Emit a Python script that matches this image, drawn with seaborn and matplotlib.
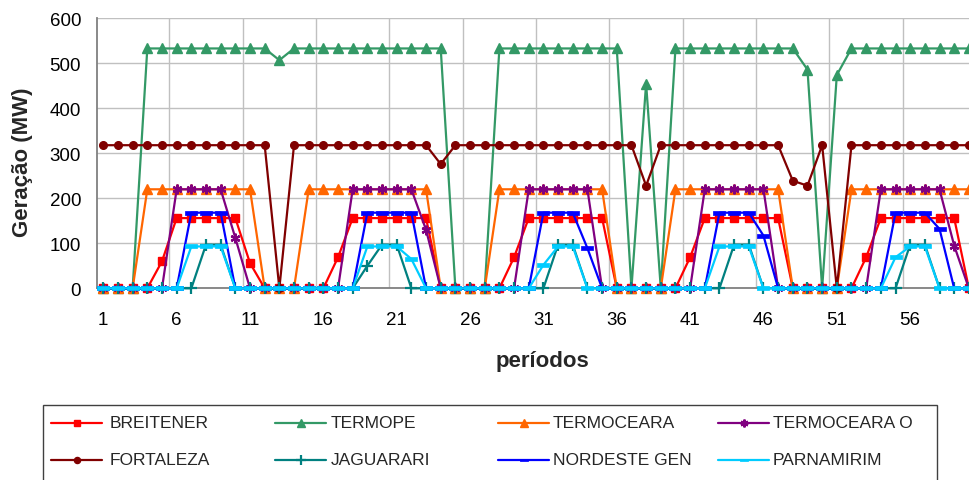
import matplotlib
matplotlib.use("Agg")
import matplotlib.pyplot as plt
import seaborn as sns
import pandas as pd
from matplotlib.lines import Line2D
from matplotlib.patches import Rectangle
from matplotlib import font_manager
from matplotlib.ticker import MultipleLocator, FixedLocator

# Generation per period (MW)
periods = list(range(1, 61))

breitener = [0, 0, 0, 0, 60, 156, 156, 156, 156, 156,
             56, 0, 0, 0, 0, 0, 69, 156, 156, 156,
             156, 156, 156, 0, 0, 0, 0, 0, 69, 156,
             156, 156, 156, 156, 156, 0, 0, 0, 0, 0,
             69, 156, 156, 156, 156, 156, 156, 0, 0, 0,
             0, 0, 69, 156, 156, 156, 156, 156, 156, 0]

termope = [0, 0, 0, 533, 533, 533, 533, 533, 533, 533,
           533, 533, 507, 533, 533, 533, 533, 533, 533, 533,
           533, 533, 533, 533, 0, 0, 0, 533, 533, 533,
           533, 533, 533, 533, 533, 533, 0, 455, 0, 533,
           533, 533, 533, 533, 533, 533, 533, 533, 486, 0,
           474, 533, 533, 533, 533, 533, 533, 533, 533, 533]

termoceara = [0, 0, 0, 220, 220, 220, 220, 220, 220, 220,
              220, 0, 0, 0, 220, 220, 220, 220, 220, 220,
              220, 220, 220, 0, 0, 0, 0, 220, 220, 220,
              220, 220, 220, 220, 220, 0, 0, 0, 0, 220,
              220, 220, 220, 220, 220, 220, 220, 0, 0, 0,
              0, 220, 220, 220, 220, 220, 220, 220, 220, 220]

termoceara_o = [0, 0, 0, 0, 0, 220, 220, 220, 220, 112,
                0, 0, 0, 0, 0, 0, 0, 220, 220, 220,
                220, 220, 130, 0, 0, 0, 0, 0, 0, 220,
                220, 220, 220, 220, 0, 0, 0, 0, 0, 0,
                0, 220, 220, 220, 220, 220, 0, 0, 0, 0,
                0, 0, 0, 220, 220, 220, 220, 220, 95, 0]

fortaleza = [318, 318, 318, 318, 318, 318, 318, 318, 318, 318,
             318, 318, 0, 318, 318, 318, 318, 318, 318, 318,
             318, 318, 318, 276, 318, 318, 318, 318, 318, 318,
             318, 318, 318, 318, 318, 318, 318, 228, 318, 318,
             318, 318, 318, 318, 318, 318, 318, 239, 228, 318,
             0, 318, 318, 318, 318, 318, 318, 318, 318, 318]

jaguarari = [0, 0, 0, 0, 0, 0, 0, 97, 97, 0,
             0, 0, 0, 0, 0, 0, 0, 0, 50, 97,
             97, 0, 0, 0, 0, 0, 0, 0, 0, 0,
             0, 97, 97, 0, 0, 0, 0, 0, 0, 0,
             0, 0, 0, 97, 97, 0, 0, 0, 0, 0,
             0, 0, 0, 0, 0, 97, 97, 0, 0, 0]

nordeste_gen = [0, 0, 0, 0, 0, 0, 168, 168, 168, 0,
                0, 0, 0, 0, 0, 0, 0, 0, 168, 168,
                168, 168, 0, 0, 0, 0, 0, 0, 0, 0,
                168, 168, 168, 89, 0, 0, 0, 0, 0, 0,
                0, 0, 168, 168, 168, 117, 0, 0, 0, 0,
                0, 0, 0, 0, 168, 168, 168, 132, 0, 0]

parnamirim = [0, 0, 0, 0, 0, 0, 93, 93, 93, 0,
              0, 0, 0, 0, 0, 0, 0, 0, 93, 93,
              93, 65, 0, 0, 0, 0, 0, 0, 0, 0,
              52, 93, 93, 0, 0, 0, 0, 0, 0, 0,
              0, 0, 93, 93, 93, 0, 0, 0, 0, 0,
              0, 0, 0, 0, 69, 93, 93, 0, 0, 0]

stations = ["BREITENER", "TERMOPE", "TERMOCEARA", "TERMOCEARA O",
            "FORTALEZA", "JAGUARARI", "NORDESTE GEN", "PARNAMIRIM"]
values = [breitener, termope, termoceara, termoceara_o,
          fortaleza, jaguarari, nordeste_gen, parnamirim]

df = pd.concat(
    [pd.DataFrame({"periodo": periods, "geracao": v, "usina": s})
     for s, v in zip(stations, values)],
    ignore_index=True,
)

# Excel-like series styling
dash = [(-1, -0.3), (1, -0.3), (1, 0.3), (-1, 0.3), (-1, -0.3)]
style = {
    "BREITENER":    dict(color="#FF0000", marker="s", ms=5.5, mew=1.0),
    "TERMOPE":      dict(color="#339966", marker="^", ms=6.5, mew=1.0),
    "TERMOCEARA":   dict(color="#FF6600", marker="^", ms=6.5, mew=1.0),
    "TERMOCEARA O": dict(color="#800080", marker=(6, 2, 0), ms=7, mew=1.6),
    "FORTALEZA":    dict(color="#800000", marker="o", ms=5.5, mew=1.0),
    "JAGUARARI":    dict(color="#008080", marker="+", ms=9, mew=1.6),
    "NORDESTE GEN": dict(color="#0000FF", marker=dash, ms=8, mew=0.5),
    "PARNAMIRIM":   dict(color="#00CCFF", marker=dash, ms=8, mew=0.5),
}

sns.set_style("white")
plt.rcParams["font.family"] = ["Liberation Sans", "DejaVu Sans"]

fig = plt.figure(figsize=(9.69, 4.81), dpi=100)
ax = fig.add_axes([96.7 / 969, (481 - 289.3) / 481,
                   (969 - 96.7) / 969, (289.3 - 19.3) / 481])

for i, s in enumerate(stations):
    st = style[s]
    sns.lineplot(data=df[df["usina"] == s], x="periodo", y="geracao", ax=ax,
                 color=st["color"], marker=st["marker"], markersize=st["ms"],
                 markeredgewidth=st["mew"], markeredgecolor=st["color"],
                 markerfacecolor=st["color"], linewidth=1.6, errorbar=None,
                 clip_on=False, zorder=3 + i * 0.1, legend=False)

ax.set_xlim(0.55, 60.01)
ax.set_ylim(0, 600)
ax.yaxis.set_major_locator(MultipleLocator(100))
ax.xaxis.set_major_locator(FixedLocator(list(range(1, 61, 5))))
ax.xaxis.set_minor_locator(FixedLocator([x + 0.5 for x in range(5, 60, 5)]))

ax.grid(False)
ax.yaxis.grid(True, which="major", color="#C0C0C0", lw=1.0)
ax.xaxis.grid(True, which="minor", color="#C0C0C0", lw=1.0)
ax.set_axisbelow(True)

for side in ("top", "right"):
    ax.spines[side].set_visible(False)
for side in ("left", "bottom"):
    ax.spines[side].set_color("#808080")
    ax.spines[side].set_linewidth(1.3)

ax.tick_params(axis="y", which="major", direction="out", length=4.3, width=1,
               color="#808080", pad=7, labelsize=13.5, labelcolor="black")
ax.tick_params(axis="x", which="major", length=0, pad=16,
               labelsize=13.5, labelcolor="black")
ax.tick_params(axis="x", which="minor", direction="out", length=4, width=1,
               color="#808080")
ax.set_xlabel("")
ax.set_ylabel("")

fig.text(23 / 969, 1 - 162 / 481, "Geração (MW)", rotation=90,
         ha="center", va="center", fontsize=16, fontweight="bold")
fig.text(542 / 969, 1 - 362 / 481, "períodos",
         ha="center", va="center", fontsize=16, fontweight="bold")

# Legend box (4 columns x 2 rows)
names = {f.name for f in font_manager.fontManager.ttflist}
if "Liberation Sans Narrow" in names:
    leg_font = dict(family=["Liberation Sans Narrow", "DejaVu Sans"], fontsize=15)
else:
    leg_font = dict(family=["Liberation Sans", "DejaVu Sans"], fontsize=12.5)

W, H = 969.0, 481.0
fig.add_artist(Rectangle((43 / W, 1 - 490 / H), (937 - 43) / W, (490 - 406) / H,
                         transform=fig.transFigure, fill=False,
                         edgecolor="#404040", lw=1.0, clip_on=False))

line_x0 = [51, 275, 498, 718]
text_x0 = [110, 331, 553, 773]
row_y = [424, 461]
for i, s in enumerate(stations):
    r, c = divmod(i, 4)
    st = style[s]
    y = 1 - row_y[r] / H
    x0 = line_x0[c] / W
    x1 = (line_x0[c] + 51) / W
    fig.add_artist(Line2D([x0, (x0 + x1) / 2, x1], [y, y, y],
                          transform=fig.transFigure, color=st["color"], lw=1.6,
                          marker=st["marker"], markevery=[1],
                          markersize=st["ms"] * 0.8, markeredgewidth=st["mew"],
                          markeredgecolor=st["color"], markerfacecolor=st["color"]))
    fig.text(text_x0[c] / W, y, s, ha="left", va="center", **leg_font)

fig.savefig("out.png", dpi=100)
